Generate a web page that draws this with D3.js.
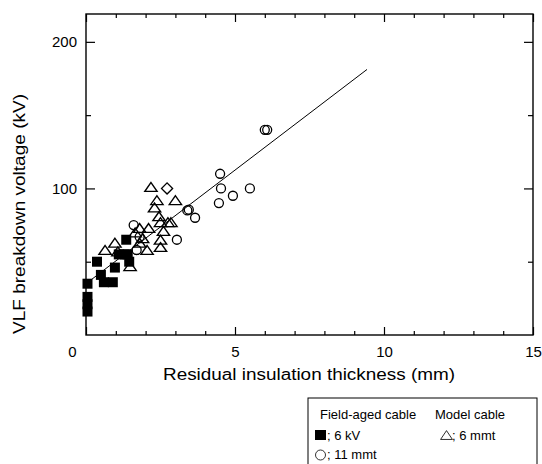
<!DOCTYPE html>
<html>
<head>
<meta charset="utf-8">
<script src="https://cdn.jsdelivr.net/npm/d3@7"></script>
<style>
  body { margin: 0; background: #fff; }
  svg { display: block; font-family: "Liberation Sans", Arial, sans-serif; }
</style>
</head>
<body>
<svg id="chart" width="542" height="464"></svg>
<script>
// field-aged cable, 6 kV (filled squares)
var kv6X = [0.05, 0.05, 0.05, 0.05, 0.37, 0.5, 0.6, 0.9, 0.97, 1.1, 1.3, 1.45, 1.4, 1.35];
var kv6Y = [16, 21, 26, 35, 50, 41, 36, 36, 46, 55, 55, 50, 55, 65];

// field-aged cable, 11 mmt (open circles)
var mmt11X = [1.6, 1.8, 1.7, 3.05, 3.4, 3.45, 3.66, 4.5, 4.53, 4.46, 4.93, 5.5, 6.0, 6.08];
var mmt11Y = [75, 67, 58, 65, 85, 85.5, 80, 110, 100, 90, 95, 100, 140, 140];

// model cable, 6 mmt (open triangles)
var mmt6X = [0.64, 0.97, 1.07, 1.48, 1.65, 1.8, 1.8, 1.9, 2.05, 2.1, 2.18, 2.3, 2.38, 2.45, 2.5, 2.5, 2.5, 2.6, 2.75, 2.85, 3.0];
var mmt6Y = [57, 62, 56, 46, 69, 62, 72, 65, 57, 72, 100, 86, 91, 80, 76, 64, 59, 70, 76, 76, 91];

// unlabelled point (open diamond)
var otherX = [2.72];
var otherY = [100];

// regression line
var fitIntercept = 35;
var fitSlope = 15.5;
var fitRange = [0.1, 9.43];

// axes
var xMajor = [0, 5, 10, 15];
var xMinor = [1, 2, 3, 4, 6, 7, 8, 9, 11, 12, 13, 14];
var yMajor = [100, 200];
var yMinor = [50, 150];

var xTitle = 'Residual insulation thickness (mm)';
var yTitle = 'VLF breakdown voltage (kV)';

var svg = d3.select('#chart');

var x = d3.scaleLinear().domain([0, 15]).range([86, 533]);
var y = d3.scaleLinear().domain([0, 219]).range([335, 14]);

function zip(xs, ys) {
  return xs.map(function(v, i) { return { x: v, y: ys[i] }; });
}

// frame
svg.append('rect')
  .attr('x', x(0))
  .attr('y', y(219))
  .attr('width', x(15) - x(0))
  .attr('height', y(0) - y(219))
  .attr('fill', 'none')
  .attr('stroke', '#000')
  .attr('stroke-width', 1.4);

function tickAxis(axis, transform) {
  var g = svg.append('g')
    .attr('transform', transform)
    .call(axis);
  g.select('.domain').remove();
  g.selectAll('line').attr('stroke', '#000').attr('stroke-width', 1.2);
  g.selectAll('text')
    .attr('fill', '#000')
    .style('font-size', '15px')
    .style('font-family', '"Liberation Sans", Arial, sans-serif');
  return g;
}

// bottom
var bottomMajor = tickAxis(
  d3.axisBottom(x).tickValues(xMajor).tickSize(-8).tickPadding(11).tickFormat(d3.format('d')),
  'translate(0,' + y(0) + ')');
bottomMajor.selectAll('.tick')
  .filter(function(d) { return d === 0; })
  .select('text')
  .attr('x', -14);
tickAxis(d3.axisBottom(x).tickValues(xMinor).tickSize(-4).tickFormat(''),
  'translate(0,' + y(0) + ')');

// top
tickAxis(d3.axisTop(x).tickValues(xMajor).tickSize(-8).tickFormat(''),
  'translate(0,' + y(219) + ')');
tickAxis(d3.axisTop(x).tickValues(xMinor).tickSize(-4).tickFormat(''),
  'translate(0,' + y(219) + ')');

// left
tickAxis(d3.axisLeft(y).tickValues(yMajor).tickSize(-9).tickPadding(9).tickFormat(d3.format('d')),
  'translate(' + x(0) + ',0)');
tickAxis(d3.axisLeft(y).tickValues(yMinor).tickSize(-5).tickFormat(''),
  'translate(' + x(0) + ',0)');

// right
tickAxis(d3.axisRight(y).tickValues(yMajor).tickSize(-9).tickFormat(''),
  'translate(' + x(15) + ',0)');
tickAxis(d3.axisRight(y).tickValues(yMinor).tickSize(-5).tickFormat(''),
  'translate(' + x(15) + ',0)');

// regression line
svg.append('line')
  .attr('x1', x(fitRange[0]))
  .attr('y1', y(fitIntercept + fitSlope * fitRange[0]))
  .attr('x2', x(fitRange[1]))
  .attr('y2', y(fitIntercept + fitSlope * fitRange[1]))
  .attr('stroke', '#000')
  .attr('stroke-width', 1);

var sym = {
  square: d3.symbol().type(d3.symbolSquare).size(100),
  triangle: d3.symbol().type(d3.symbolTriangle).size(50),
  diamond: d3.symbol().type(d3.symbolSquare).size(62)
};

// triangles
svg.append('g')
  .selectAll('path')
  .data(zip(mmt6X, mmt6Y))
  .enter()
  .append('path')
  .attr('d', sym.triangle)
  .attr('transform', function(d) { return 'translate(' + x(d.x) + ',' + y(d.y) + ') scale(1.15,0.95)'; })
  .attr('fill', 'none')
  .attr('stroke', '#000')
  .attr('stroke-width', 1.3);

// diamond
svg.append('g')
  .selectAll('path')
  .data(zip(otherX, otherY))
  .enter()
  .append('path')
  .attr('d', sym.diamond)
  .attr('transform', function(d) { return 'translate(' + x(d.x) + ',' + y(d.y) + ') rotate(45)'; })
  .attr('fill', 'none')
  .attr('stroke', '#000')
  .attr('stroke-width', 1.3);

// circles
svg.append('g')
  .selectAll('circle')
  .data(zip(mmt11X, mmt11Y))
  .enter()
  .append('circle')
  .attr('cx', function(d) { return x(d.x); })
  .attr('cy', function(d) { return y(d.y); })
  .attr('r', 4.5)
  .attr('fill', 'none')
  .attr('stroke', '#000')
  .attr('stroke-width', 1.3);

// squares
svg.append('g')
  .selectAll('path')
  .data(zip(kv6X, kv6Y))
  .enter()
  .append('path')
  .attr('d', sym.square)
  .attr('transform', function(d) { return 'translate(' + x(d.x) + ',' + y(d.y) + ')'; })
  .attr('fill', '#000');

// axis titles
svg.append('text')
  .attr('x', 309)
  .attr('y', 380)
  .attr('text-anchor', 'middle')
  .attr('textLength', 292)
  .attr('lengthAdjust', 'spacingAndGlyphs')
  .style('font-size', '16px')
  .text(xTitle);

svg.append('text')
  .attr('transform', 'translate(25,214) rotate(-90)')
  .attr('text-anchor', 'middle')
  .attr('textLength', 240)
  .attr('lengthAdjust', 'spacingAndGlyphs')
  .style('font-size', '16px')
  .text(yTitle);

// legend
var legend = svg.append('g');
legend.append('rect')
  .attr('x', 308)
  .attr('y', 398)
  .attr('width', 229)
  .attr('height', 80)
  .attr('fill', '#fff')
  .attr('stroke', '#000')
  .attr('stroke-width', 1);

var legendText = [
  { t: 'Field-aged cable', x: 320, y: 419 },
  { t: 'Model cable', x: 435, y: 419 },
  { t: '; 6 kV', x: 327, y: 440 },
  { t: '; 6 mmt', x: 452, y: 440 },
  { t: '; 11 mmt', x: 327, y: 459 }
];
legend.selectAll('text')
  .data(legendText)
  .enter()
  .append('text')
  .attr('x', function(d) { return d.x; })
  .attr('y', function(d) { return d.y; })
  .style('font-size', '13px')
  .text(function(d) { return d.t; });

legend.append('rect')
  .attr('x', 315).attr('y', 430)
  .attr('width', 11).attr('height', 10)
  .attr('fill', '#000');
legend.append('circle')
  .attr('cx', 320.5).attr('cy', 455)
  .attr('r', 5)
  .attr('fill', 'none')
  .attr('stroke', '#000')
  .attr('stroke-width', 0.8);
legend.append('path')
  .attr('d', sym.triangle)
  .attr('transform', 'translate(446.5,436.5) scale(1.1,0.95)')
  .attr('fill', 'none')
  .attr('stroke', '#000')
  .attr('stroke-width', 0.8);
</script>
</body>
</html>
